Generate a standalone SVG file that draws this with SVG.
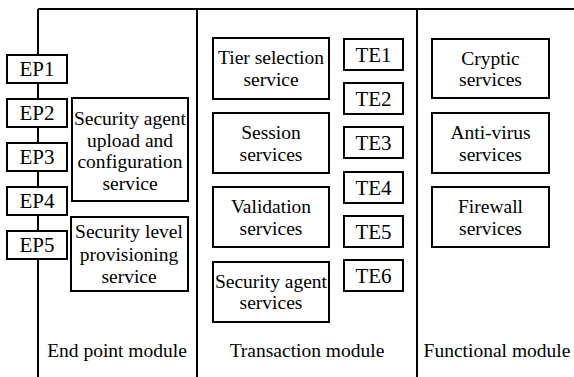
<svg xmlns="http://www.w3.org/2000/svg" width="574" height="377" viewBox="0 0 574 377" style="font-family:'Liberation Serif',serif !important">
<rect width="574" height="377" fill="#fff"/>
<g id="frame" fill="none" stroke="#000" stroke-width="2">
<path d="M38,9H574M38,9V377M197,9V377M417,9V377"/>
</g>
<g id="connectors"></g>
<g fill="#fff" stroke="#000" stroke-width="2">
<rect id="ep1-box" x="7" y="55" width="60" height="28"/>
<rect id="ep2-box" x="7" y="99" width="60" height="28"/>
<rect id="ep3-box" x="7" y="143" width="60" height="28"/>
<rect id="ep4-box" x="7" y="187" width="60" height="28"/>
<rect id="ep5-box" x="7" y="231" width="60" height="28"/>
<rect id="upload-box" x="72" y="98" width="116" height="103"/>
<rect id="provision-box" x="71" y="217" width="117" height="74"/>
<rect id="tier-box" x="213" y="38" width="116" height="61"/>
<rect id="session-box" x="213" y="113" width="116" height="60"/>
<rect id="validation-box" x="213" y="187" width="116" height="60"/>
<rect id="agent-box" x="213" y="262" width="116" height="60"/>
<rect id="te1-box" x="344" y="39" width="59" height="31"/>
<rect id="te2-box" x="344" y="83" width="59" height="31"/>
<rect id="te3-box" x="344" y="127" width="59" height="31"/>
<rect id="te4-box" x="344" y="172" width="59" height="31"/>
<rect id="te5-box" x="344" y="216" width="59" height="31"/>
<rect id="te6-box" x="344" y="260" width="59" height="31"/>
<rect id="cryptic-box" x="432" y="39" width="117" height="59"/>
<rect id="antivirus-box" x="432" y="113" width="117" height="60"/>
<rect id="firewall-box" x="432" y="187" width="117" height="60"/>
</g>
<g id="ep-labels" fill="#000" text-anchor="middle">
<text style="font-family:'Liberation Serif',serif !important;font-size:21px" x="37" y="76">EP1</text>
<text style="font-family:'Liberation Serif',serif !important;font-size:21px" x="37" y="120">EP2</text>
<text style="font-family:'Liberation Serif',serif !important;font-size:21px" x="37" y="164">EP3</text>
<text style="font-family:'Liberation Serif',serif !important;font-size:21px" x="37" y="208">EP4</text>
<text style="font-family:'Liberation Serif',serif !important;font-size:21px" x="37" y="252">EP5</text>
<text style="font-family:'Liberation Serif',serif !important;font-size:21px" x="373.5" y="62">TE1</text>
<text style="font-family:'Liberation Serif',serif !important;font-size:21px" x="373.5" y="106">TE2</text>
<text style="font-family:'Liberation Serif',serif !important;font-size:21px" x="373.5" y="150">TE3</text>
<text style="font-family:'Liberation Serif',serif !important;font-size:21px" x="373.5" y="195">TE4</text>
<text style="font-family:'Liberation Serif',serif !important;font-size:21px" x="373.5" y="239">TE5</text>
<text style="font-family:'Liberation Serif',serif !important;font-size:21px" x="373.5" y="283">TE6</text>
</g>
<g id="service-labels" fill="#000" text-anchor="middle">
<text style="font-family:'Liberation Serif',serif !important;font-size:19.5px" x="130" y="125">Security agent</text>
<text style="font-family:'Liberation Serif',serif !important;font-size:19.5px" x="130" y="147">upload and</text>
<text style="font-family:'Liberation Serif',serif !important;font-size:19.5px" x="130" y="168">configuration</text>
<text style="font-family:'Liberation Serif',serif !important;font-size:19.5px" x="130" y="190">service</text>
<text style="font-family:'Liberation Serif',serif !important;font-size:19.5px" x="129" y="238">Security level</text>
<text style="font-family:'Liberation Serif',serif !important;font-size:19.5px" x="129" y="261">provisioning</text>
<text style="font-family:'Liberation Serif',serif !important;font-size:19.5px" x="129" y="283">service</text>
<text style="font-family:'Liberation Serif',serif !important;font-size:19.5px" x="117" y="357">End point module</text>
<text style="font-family:'Liberation Serif',serif !important;font-size:19.5px" x="271" y="64">Tier selection</text>
<text style="font-family:'Liberation Serif',serif !important;font-size:19.5px" x="271" y="86">service</text>
<text style="font-family:'Liberation Serif',serif !important;font-size:19.5px" x="271" y="139">Session</text>
<text style="font-family:'Liberation Serif',serif !important;font-size:19.5px" x="271" y="161">services</text>
<text style="font-family:'Liberation Serif',serif !important;font-size:19.5px" x="271" y="213">Validation</text>
<text style="font-family:'Liberation Serif',serif !important;font-size:19.5px" x="271" y="235">services</text>
<text style="font-family:'Liberation Serif',serif !important;font-size:19.5px" x="271" y="288">Security agent</text>
<text style="font-family:'Liberation Serif',serif !important;font-size:19.5px" x="271" y="309">services</text>
<text style="font-family:'Liberation Serif',serif !important;font-size:19.5px" x="307" y="357">Transaction module</text>
<text style="font-family:'Liberation Serif',serif !important;font-size:19.5px" x="490.5" y="65">Cryptic</text>
<text style="font-family:'Liberation Serif',serif !important;font-size:19.5px" x="490.5" y="86">services</text>
<text style="font-family:'Liberation Serif',serif !important;font-size:19.5px" x="490.5" y="139">Anti-virus</text>
<text style="font-family:'Liberation Serif',serif !important;font-size:19.5px" x="490.5" y="161">services</text>
<text style="font-family:'Liberation Serif',serif !important;font-size:19.5px" x="490.5" y="213">Firewall</text>
<text style="font-family:'Liberation Serif',serif !important;font-size:19.5px" x="490.5" y="235">services</text>
<text style="font-family:'Liberation Serif',serif !important;font-size:19.5px" x="497" y="357">Functional module</text>
</g>
</svg>
